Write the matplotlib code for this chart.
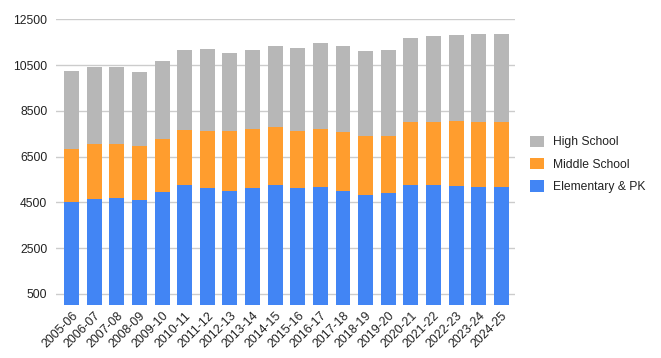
import matplotlib.pyplot as plt
import numpy as np

plt.rcParams['font.family'] = ['Liberation Sans', 'DejaVu Sans']

years = ['2005-06', '2006-07', '2007-08', '2008-09', '2009-10', '2010-11',
         '2011-12', '2012-13', '2013-14', '2014-15', '2015-16', '2016-17',
         '2017-18', '2018-19', '2019-20', '2020-21', '2021-22', '2022-23',
         '2023-24', '2024-25']
elementary = [4527, 4645, 4703, 4616, 4966, 5258, 5141, 4995, 5141, 5271,
              5141, 5184, 4995, 4834, 4921, 5271, 5271, 5228, 5184, 5184]
middle = [2303, 2417, 2359, 2360, 2302, 2418, 2478, 2624, 2565, 2522,
          2478, 2522, 2594, 2580, 2493, 2754, 2754, 2828, 2841, 2841]
high = [3409, 3352, 3352, 3234, 3410, 3484, 3584, 3408, 3454, 3540,
        3627, 3759, 3744, 3701, 3746, 3658, 3746, 3758, 3833, 3833]
y_ticks = [500, 2500, 4500, 6500, 8500, 10500, 12500]

c_elem = '#4285f4'
c_mid = '#ff9d2e'
c_high = '#b7b7b7'

fig = plt.figure(figsize=(6.61, 3.58), dpi=100)
ax = fig.add_axes([0.0843, 0.147, 0.6947, 0.799])

x = np.arange(len(years))
elem = np.array(elementary)
mid = np.array(middle)
hi = np.array(high)
w = 0.66
ax.bar(x, elem, w, color=c_elem, label='Elementary & PK', zorder=2)
ax.bar(x, mid, w, bottom=elem, color=c_mid, label='Middle School', zorder=2)
ax.bar(x, hi, w, bottom=elem + mid, color=c_high, label='High School', zorder=2)

ax.set_xlim(-0.7, len(years) - 0.4)
ax.set_ylim(0, 12500)
ax.set_yticks(y_ticks)
ax.set_yticklabels([str(v) for v in y_ticks])
ax.yaxis.grid(True, color='#cccccc', linewidth=1, zorder=0)
ax.set_axisbelow(True)
for s in ax.spines.values():
    s.set_visible(False)
ax.tick_params(axis='y', length=0, pad=6, labelsize=8.7, labelcolor='#222222')
ax.tick_params(axis='x', length=0, pad=3, labelsize=8.9, labelcolor='#222222')
ax.set_xticks(x)
ax.set_xticklabels(years, rotation=45, ha='right', va='top', rotation_mode='anchor')

handles, labels = ax.get_legend_handles_labels()
leg = fig.legend(handles[::-1], labels[::-1], loc='upper left',
                 bbox_to_anchor=(0.795, 0.635), frameon=False,
                 fontsize=8.7, handlelength=1.1, handleheight=1.1,
                 labelspacing=0.78, handletextpad=0.8, borderaxespad=0)
for t in leg.get_texts():
    t.set_color('#222222')

fig.savefig('out.png', dpi=100)
